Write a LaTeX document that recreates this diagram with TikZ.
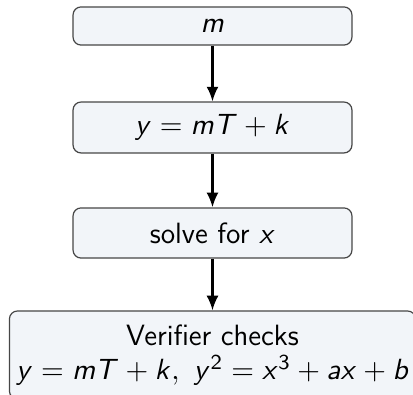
\documentclass[tikz,border=0pt]{standalone}
\usetikzlibrary{arrows.meta}
\DeclareMathAlphabet{\mathsfit}{OT1}{cmss}{m}{sl}
\DeclareMathAlphabet{\mathsfup}{OT1}{cmss}{m}{n}
\definecolor{boxfill}{RGB}{242,245,249}
\definecolor{boxline}{RGB}{70,70,70}
\tikzset{
  px/.style={x=0.375pt,y=-0.375pt},
  stepbox/.style={draw=boxline,fill=boxfill,rounded corners=3pt,line width=0.45pt,
    minimum width=104.6pt,inner sep=0pt,align=center,font=\sffamily\fontsize{11}{13}\selectfont},
  flow/.style={-{Latex[length=5.5pt,width=4.5pt]},line width=0.8pt,black}
}
\begin{document}
\begin{tikzpicture}[px]
\useasboundingbox (0,0) rectangle (413,395);
\node[stepbox,minimum height=14.3pt] (a) at (212.5,26) {$\mathsfit{m}$};
\node[stepbox,minimum height=19.1pt] (b) at (212.5,127.5) {$\mathsfit{y} = \mathsfit{mT} + \mathsfit{k}$};
\node[stepbox,minimum height=18.8pt] (c) at (212.5,233) {solve for $\mathsfit{x}$};
\node[stepbox,minimum width=152.3pt,minimum height=33pt] (d) at (212.5,355) {Verifier checks\\$\mathsfit{y} = \mathsfit{mT} + \mathsfit{k},\ \mathsfit{y}^{\mathsfup{2}} = \mathsfit{x}^{\mathsfup{3}} + \mathsfit{ax} + \mathsfit{b}$};
\draw[flow] (a) -- (b);
\draw[flow] (b) -- (c);
\draw[flow] (c) -- (d);
\end{tikzpicture}
\end{document}
